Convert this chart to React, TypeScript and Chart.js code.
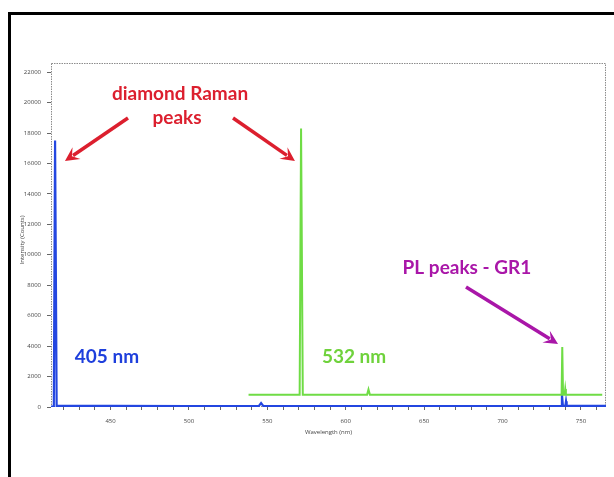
import React, { useEffect, useRef } from 'react';
import { Chart, registerables } from 'chart.js';
Chart.register(...registerables);

// ---- data (wavelength nm, intensity counts) ----
const blueWavelength = [412, 413.8, 414.6, 415.6, 420, 450, 500, 544.5, 546, 547.5, 600, 650, 700, 737.4, 737.9, 738.5, 740.1, 740.5, 740.9, 766];
const blueIntensity = [20, 20, 17500, 70, 80, 70, 60, 60, 260, 60, 60, 60, 60, 70, 850, 80, 80, 380, 80, 80];
const greenWavelength = [538, 570.6, 571.5, 572.6, 613.6, 614.5, 615.4, 737.7, 738.1, 738.6, 739.6, 740.0, 740.4, 763.6];
const greenIntensity = [800, 800, 18300, 800, 800, 1150, 800, 800, 3940, 800, 800, 1180, 800, 800];

const xMin = 412;
const xMax = 766;
const yMin = 0;
const yMax = 22600;
const xTickValues = [420, 430, 440, 450, 460, 470, 480, 490, 500, 510, 520, 530, 540, 550, 560, 570, 580, 590, 600, 610, 620, 630, 640, 650, 660, 670, 680, 690, 700, 710, 720, 730, 740, 750, 760];
const xLabelStep = 50;
const yTickValues = [0, 2000, 4000, 6000, 8000, 10000, 12000, 14000, 16000, 18000, 20000, 22000];

const xTitle = 'Wavelength (nm)';
const yTitle = 'Intensity (Counts)';

// annotations in data units
const labelTexts = ['diamond Raman', 'peaks', '405 nm', '532 nm', 'PL peaks - GR1'];
const labelX = [494.3, 492.4, 447.7, 605.3, 677.3];
const labelY = [20560, 18990, 3290, 3290, 9130];
const labelColors = ['#dc1f2e', '#dc1f2e', '#1e3fdc', '#6fd23c', '#a916a8'];

const arrowFromX = [461.1, 528.1, 676.7];
const arrowFromY = [18990, 18990, 7880];
const arrowToX = [420.9, 567.6, 735.4];
const arrowToY = [16160, 16160, 4140];
const arrowColors = ['#dc1f2e', '#dc1f2e', '#a916a8'];

function drawArrow(ctx: CanvasRenderingContext2D, x1: number, y1: number, x2: number, y2: number, color: string) {
  const ang = Math.atan2(y2 - y1, x2 - x1);
  const c = Math.cos(ang), s = Math.sin(ang);
  const head = 14, hw = 7;
  ctx.save();
  ctx.strokeStyle = color;
  ctx.fillStyle = color;
  ctx.lineWidth = 3.5;
  ctx.beginPath();
  ctx.moveTo(x1, y1);
  ctx.lineTo(x2 - head * 0.7 * c, y2 - head * 0.7 * s);
  ctx.stroke();
  ctx.beginPath();
  ctx.moveTo(x2, y2);
  ctx.lineTo(x2 - head * c + hw * s, y2 - head * s - hw * c);
  ctx.lineTo(x2 - head * 0.6 * c, y2 - head * 0.6 * s);
  ctx.lineTo(x2 - head * c - hw * s, y2 - head * s + hw * c);
  ctx.closePath();
  ctx.fill();
  ctx.restore();
}

const overlayPlugin = {
  id: 'overlay',
  beforeDraw(chart: any) {
    const ctx = chart.ctx as CanvasRenderingContext2D;
    ctx.save();
    ctx.fillStyle = '#ffffff';
    ctx.fillRect(0, 0, chart.width, chart.height);
    ctx.strokeStyle = '#000000';
    ctx.lineWidth = 3;
    ctx.strokeRect(9.5, 13.5, chart.width + 40, chart.height + 40);
    ctx.restore();
  },
  beforeDatasetsDraw(chart: any) {
    const ctx = chart.ctx as CanvasRenderingContext2D;
    const a = chart.chartArea;
    ctx.save();
    ctx.setLineDash([1.5, 1]);
    ctx.strokeStyle = '#8c8c8c';
    ctx.lineWidth = 1;
    ctx.strokeRect(a.left + 0.5, a.top + 0.5, a.right - a.left - 1, a.bottom - a.top - 1);
    ctx.restore();
  },
  afterDraw(chart: any) {
    const ctx = chart.ctx as CanvasRenderingContext2D;
    const a = chart.chartArea;
    const xs = chart.scales.x;
    const ys = chart.scales.y;
    ctx.save();
    // axis titles
    ctx.fillStyle = '#444444';
    ctx.font = '6px "Open Sans", sans-serif';
    ctx.textAlign = 'center';
    ctx.textBaseline = 'middle';
    ctx.fillText(xTitle, (a.left + a.right) / 2, a.bottom + 25);
    ctx.save();
    ctx.translate(22, (a.top + a.bottom) / 2 + 5);
    ctx.rotate(-Math.PI / 2);
    ctx.fillText(yTitle, 0, 0);
    ctx.restore();
    // labels
    ctx.font = 'bold 19px Lato, "Open Sans", sans-serif';
    for (let i = 0; i < labelTexts.length; i++) {
      ctx.fillStyle = labelColors[i];
      ctx.fillText(labelTexts[i], xs.getPixelForValue(labelX[i]), ys.getPixelForValue(labelY[i]));
    }
    for (let i = 0; i < arrowFromX.length; i++) {
      drawArrow(
        ctx,
        xs.getPixelForValue(arrowFromX[i]),
        ys.getPixelForValue(arrowFromY[i]),
        xs.getPixelForValue(arrowToX[i]),
        ys.getPixelForValue(arrowToY[i]),
        arrowColors[i]
      );
    }
    ctx.restore();
  },
};

export default function App() {
  const ref = useRef<HTMLCanvasElement | null>(null);
  useEffect(() => {
    if (!ref.current) return;
    const blue = blueWavelength.map((x, i) => ({ x, y: blueIntensity[i] }));
    const green = greenWavelength.map((x, i) => ({ x, y: greenIntensity[i] }));
    const chart = new Chart(ref.current, {
      type: 'scatter',
      data: {
        datasets: [
          { label: '532 nm', data: green, showLine: true, borderColor: '#6fdc45', borderWidth: 2, pointRadius: 0, tension: 0, order: 0 },
          { label: '405 nm', data: blue, showLine: true, borderColor: '#2346e0', borderWidth: 2.2, pointRadius: 0, tension: 0, order: 1 },
        ],
      },
      options: {
        animation: false,
        responsive: false,
        maintainAspectRatio: false,
        layout: { padding: { top: 63, right: 8, left: 0, bottom: 0 } },
        plugins: { legend: { display: false }, tooltip: { enabled: false } },
        scales: {
          x: {
            type: 'linear',
            min: xMin,
            max: xMax,
            border: { display: false },
            grid: { drawOnChartArea: false, drawTicks: true, tickLength: 3, color: '#666666' },
            ticks: {
              autoSkip: false,
              maxRotation: 0,
              padding: 8,
              color: '#444444',
              font: { size: 6, family: '"Open Sans", sans-serif' },
              callback: (v: any) => (Number(v) % xLabelStep === 0 ? String(v) : ''),
            },
            afterBuildTicks: (s: any) => { s.ticks = xTickValues.map((value) => ({ value })); },
            afterFit: (s: any) => { s.height = 70; },
          },
          y: {
            type: 'linear',
            min: yMin,
            max: yMax,
            border: { display: false },
            grid: { drawOnChartArea: false, drawTicks: true, tickLength: 4, color: '#666666' },
            ticks: {
              autoSkip: false,
              padding: 6,
              color: '#444444',
              font: { size: 6, family: '"Open Sans", sans-serif' },
              callback: (v: any) => String(v),
            },
            afterBuildTicks: (s: any) => { s.ticks = yTickValues.map((value) => ({ value })); },
            afterFit: (s: any) => { s.width = 51; },
          },
        },
      },
      plugins: [overlayPlugin],
    });
    return () => chart.destroy();
  }, []);
  return (
    <div style={{ position: 'fixed', left: 0, top: 0, width: 614, height: 477, background: '#fff' }}>
      <canvas ref={ref} width={614} height={477} style={{ display: 'block' }} />
    </div>
  );
}
